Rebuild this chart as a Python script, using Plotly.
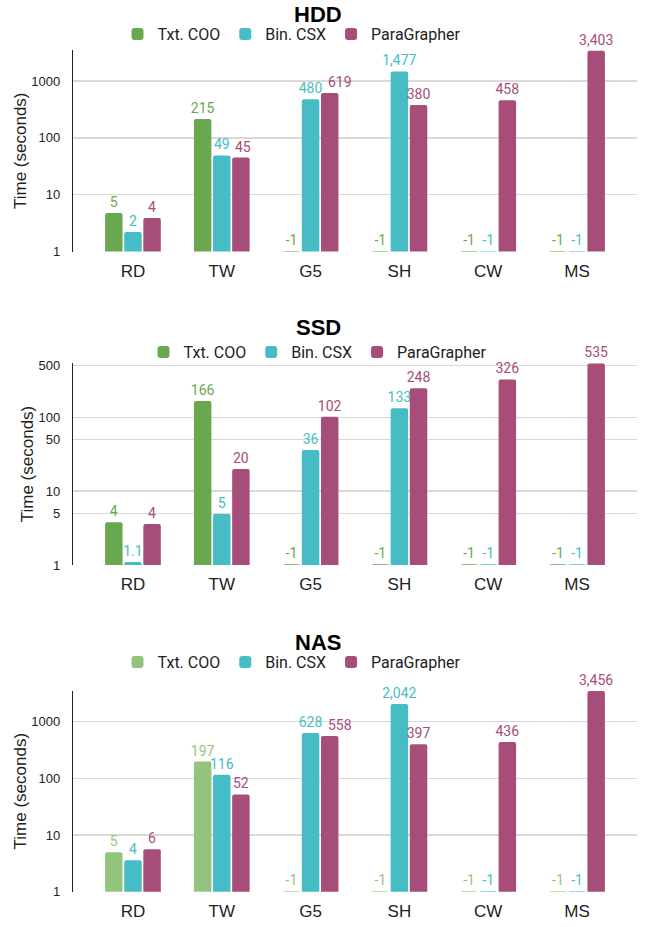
import math
import plotly.graph_objects as go

categories = ["RD", "TW", "G5", "SH", "CW", "MS"]
series_names = ["Txt. COO", "Bin. CSX", "ParaGrapher"]

hdd_txt = [4.75, 215, -1, -1, -1, -1]
hdd_bin = [2.2, 49, 480, 1477, -1, -1]
hdd_para = [3.9, 45, 619, 380, 458, 3403]

ssd_txt = [3.8, 166, -1, -1, -1, -1]
ssd_bin = [1.1, 4.9, 36, 133, -1, -1]
ssd_para = [3.6, 20, 102, 248, 326, 535]

nas_txt = [4.95, 197, -1, -1, -1, -1]
nas_bin = [3.6, 116, 628, 2042, -1, -1]
nas_para = [5.6, 52, 558, 397, 436, 3456]

panel_titles = ["HDD", "SSD", "NAS"]
ticks_hdd = [1, 10, 100, 1000]
ticks_ssd = [1, 5, 10, 50, 100, 500]
ticks_nas = [1, 10, 100, 1000]

GREEN = "#6aa84f"
LGREEN = "#93c47d"
CYAN = "#46bdc6"
MAG = "#a64d79"

W, H = 653, 927
BARGAP, GROUPGAP = 0.354, 0.086
XR = [-0.675, 5.675]
XL, XRT = 73, 637   # px of plot left / right


def lab(v):
    if v < 0:
        return "-1"
    if v < 2:
        return f"{v:.1f}"
    return f"{round(v):,}"


def py(sy):
    return 1 - sy / H


def px(sx):
    return sx / W


panels = [
    dict(title=panel_titles[0], data=[hdd_txt, hdd_bin, hdd_para], colors=[GREEN, CYAN, MAG],
         ticks=ticks_hdd, top=50, bot=251.5, rng=3.547, ty=14, ly=34, lx=292),
    dict(title=panel_titles[1], data=[ssd_txt, ssd_bin, ssd_para], colors=[GREEN, CYAN, MAG],
         ticks=ticks_ssd, top=363, bot=565, rng=2.735, ty=328, ly=352, lx=318),
    dict(title=panel_titles[2], data=[nas_txt, nas_bin, nas_para], colors=[LGREEN, CYAN, MAG],
         ticks=ticks_nas, top=690.7, bot=891.7, rng=3.545, ty=642, ly=662, lx=292),
]

unit_px = (XRT - XL) / (XR[1] - XR[0])
slot_px = unit_px * (1 - BARGAP) / 3
LABEL_FONT = 14
char_w = 0.56 * LABEL_FONT

fig = go.Figure()
annotations = []
layout = {}
for i, p in enumerate(panels):
    n = "" if i == 0 else str(i + 1)
    leg = "legend" if i == 0 else f"legend{i + 1}"
    dec_px = (p["bot"] - p["top"]) / p["rng"]
    bin_vals, para_vals = p["data"][1], p["data"][2]
    # Sheets nudges a label sideways when it would collide with its neighbour
    nudged = []
    for k in range(len(categories)):
        a, b = bin_vals[k], para_vals[k]
        if a > 0 and b > 0:
            dy = abs(math.log10(a) - math.log10(b)) * dec_px
            need = (len(lab(a)) + len(lab(b))) * char_w / 2 + 4
            if dy < LABEL_FONT and need > slot_px:
                nudged.append(k)
    for s, (name, vals, col) in enumerate(zip(series_names, p["data"], p["colors"])):
        texts = [lab(v) for v in vals]
        if s == 2:
            for k in nudged:
                a_txt = lab(bin_vals[k])
                shift = (len(a_txt) + len(texts[k])) * char_w / 2 + 6 - slot_px
                annotations.append(dict(
                    text=texts[k], x=categories[k], y=math.log10(vals[k]),
                    xref="x" + n, yref="y" + n, xanchor="center", yanchor="bottom",
                    xshift=slot_px + shift, yshift=1, showarrow=False,
                    font=dict(family="Roboto", size=LABEL_FONT, color=col),
                ))
                texts[k] = ""
        fig.add_trace(go.Bar(
            x=categories,
            # missing runs (-1) are drawn as zero-height bars at the axis floor
            y=[v if v > 0 else 1.02 for v in vals],
            name=name,
            marker=dict(color=col, line=dict(width=0)),
            text=texts,
            textposition="outside",
            textangle=0,
            constraintext="none",
            cliponaxis=False,
            textfont=dict(family="Roboto", size=LABEL_FONT, color=col),
            xaxis="x" + n, yaxis="y" + n,
            legend=leg,
            hoverinfo="skip",
        ))
    layout["xaxis" + n] = dict(
        domain=[px(XL), px(XRT)], anchor="y" + n,
        range=XR, showgrid=False, showline=False, zeroline=False,
        tickfont=dict(family="Liberation Sans", size=17, color="#222"),
        ticks="", ticklabelstandoff=7,
    )
    layout["yaxis" + n] = dict(
        domain=[py(p["bot"]), py(p["top"])], anchor="x" + n,
        type="log", range=[0, p["rng"]],
        tickvals=p["ticks"], ticktext=[str(t) for t in p["ticks"]],
        showgrid=True, gridcolor="#d9d9d9", gridwidth=1.5,
        showline=True, linecolor="#222", linewidth=1.2, zeroline=False,
        tickfont=dict(family="Liberation Sans", size=13, color="#222"),
        ticks="", ticklabelstandoff=9,
        title=dict(text="Time (seconds)", font=dict(family="Liberation Sans", size=17, color="#222"),
                   standoff=0),
    )
    layout[leg] = dict(
        orientation="h", x=px(p["lx"]), xanchor="center", y=py(p["ly"]), yanchor="middle",
        font=dict(family="Roboto", size=16, color="#222"), bgcolor="rgba(0,0,0,0)",
        itemclick=False, itemdoubleclick=False,
    )
    annotations.append(dict(
        text=f"<b>{p['title']}</b>", x=px(318), y=py(p["ty"]), xref="paper", yref="paper",
        xanchor="center", yanchor="middle", showarrow=False,
        font=dict(family="Liberation Sans", size=22, color="#000"),
    ))

fig.update_layout(
    width=W, height=H,
    margin=dict(l=0, r=0, t=0, b=0, autoexpand=False),
    paper_bgcolor="white", plot_bgcolor="white",
    barmode="group", bargap=BARGAP, bargroupgap=GROUPGAP,
    barcornerradius=2,
    showlegend=True,
    hovermode=False,
    annotations=annotations,
    **layout,
)

fig.write_html("out.html", config={"displayModeBar": False, "staticPlot": True},
               post_script="document.body.style.margin='0';")
